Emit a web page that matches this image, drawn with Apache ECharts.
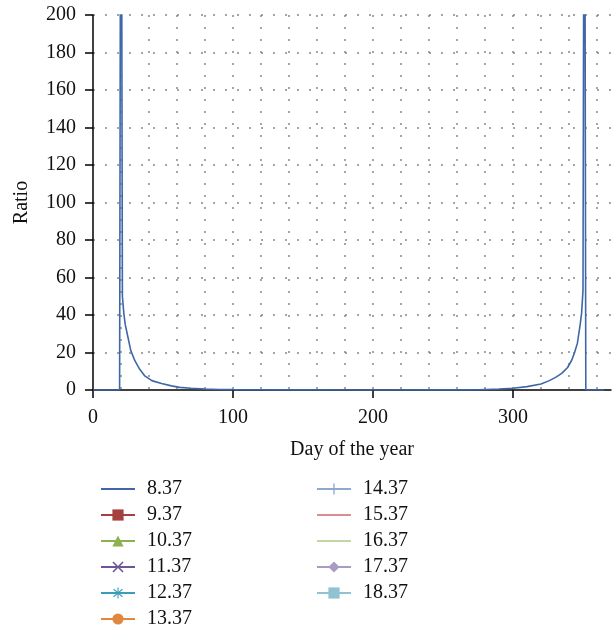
<!DOCTYPE html>
<html>
<head>
<meta charset="utf-8">
<script src="https://cdn.jsdelivr.net/npm/echarts@6/dist/echarts.min.js"></script>
<style>
  html, body { margin: 0; padding: 0; background: #fff; }
  #chart { width: 615px; height: 630px; }
</style>
</head>
<body>
<div id="chart"></div>
<script>
// Series names (legend entries)
const seriesNames = ['8.37', '9.37', '10.37', '11.37', '12.37', '13.37',
                     '14.37', '15.37', '16.37', '17.37', '18.37'];

// Curve for 8.37: day of the year and ratio
const days  = [0, 19, 20, 21, 22, 23, 25, 27, 30, 33, 37, 42, 49, 56, 62, 70, 80, 90, 100,
               120, 150, 180, 210, 240, 260, 276, 290, 300, 310, 320, 326, 331, 335, 339,
               342, 344, 346, 347, 348, 349, 350, 351, 352, 365];
const ratio = [0, 0, 400, 50, 41, 35, 28, 21, 15.5, 11.5, 7.5, 5, 3.5, 2.2, 1.4, 0.9, 0.5, 0.3, 0.2,
               0.1, 0.05, 0.03, 0.03, 0.05, 0.07, 0.1, 0.5, 0.9, 1.8, 3.2, 5, 7, 9, 12,
               16, 20, 25, 30, 35, 41, 53, 400, 0, 0];

// Axis ticks
const xTicks = [0, 100, 200, 300];
const yTicks = [0, 20, 40, 60, 80, 100, 120, 140, 160, 180, 200];

const colors = ['#3F67A8', '#A4403D', '#8DB050', '#6E549A', '#3B9DB8', '#E0883E',
                '#8FA8CF', '#DD8E8C', '#C4D6A5', '#A89CC4', '#90C2D2'];

const xMark = 'path://M1,0 L5,4 L9,0 L10,1 L6,5 L10,9 L9,10 L5,6 L1,10 L0,9 L4,5 L0,1 Z';
const plusMark = 'path://M4.4,0 H5.6 V4.4 H10 V5.6 H5.6 V10 H4.4 V5.6 H0 V4.4 H4.4 Z';
const starMark = 'path://M4.5,0 H5.5 V3.8 L8.6,1.2 L9.3,2 L6.2,4.6 H10 V5.4 H6.2 L9.3,8 L8.6,8.8 L5.5,6.2 V10 H4.5 V6.2 L1.4,8.8 L0.7,8 L3.8,5.4 H0 V4.6 H3.8 L0.7,2 L1.4,1.2 L4.5,3.8 Z';
const symbols = ['none', 'rect', 'triangle', xMark, starMark, 'circle',
                 plusMark, 'none', 'none', 'diamond', 'rect'];

const FONT = 'Liberation Serif, Times New Roman, serif';
const FS = 20;

const curve = days.map((d, i) => [d, ratio[i]]);

const series = seriesNames.map((name, i) => ({
  name: name,
  type: 'line',
  data: i === 0 ? curve : [],
  symbol: symbols[i],
  showSymbol: false,
  clip: true,
  color: colors[i],
  lineStyle: { width: 1.6, color: colors[i] },
  itemStyle: { color: colors[i] },
  z: 10 - i
}));

// Legend entries; plain-line series get no marker in the key
const legendItem = (name, i) => symbols[i] === 'none'
  ? { name: name, itemStyle: { opacity: 0 } }
  : { name: name };

const legendBase = {
  orient: 'vertical',
  padding: 0,
  itemWidth: 34,
  itemHeight: 14,
  itemGap: 6,
  selectedMode: false,
  textStyle: { fontFamily: FONT, fontSize: FS, color: '#111', lineHeight: 20, padding: [0, 0, 0, 7] }
};

const gridDots = { type: [2, 10], color: '#888', width: 1.5 };

const chart = echarts.init(document.getElementById('chart'), null, { renderer: 'canvas' });
chart.setOption({
  animation: false,
  backgroundColor: '#fff',
  grid: { left: 93, top: 15, right: 4, bottom: 240, containLabel: false },
  legend: [
    Object.assign({}, legendBase, { left: 100, top: 479,
      data: seriesNames.slice(0, 6).map((n, i) => legendItem(n, i)) }),
    Object.assign({}, legendBase, { left: 316, top: 479,
      data: seriesNames.slice(6).map((n, i) => legendItem(n, i + 6)) })
  ],
  xAxis: [
    {
      // main axis: line, labels, name and the dotted grid every 20 days
      type: 'value',
      position: 'bottom',
      min: 0,
      max: 370,
      interval: 20,
      name: 'Day of the year',
      nameLocation: 'middle',
      nameGap: 50,
      nameTextStyle: { fontFamily: FONT, fontSize: FS, color: '#111' },
      axisLine: { show: true, onZero: false, lineStyle: { color: '#000', width: 1.5 } },
      axisTick: { show: false },
      axisLabel: { customValues: xTicks, margin: 18, fontFamily: FONT, fontSize: FS, color: '#111' },
      splitLine: { show: true, showMinLine: false, showMaxLine: false, lineStyle: gridDots }
    },
    {
      // tick marks at the labelled days only
      type: 'value',
      position: 'bottom',
      min: 0,
      max: 370,
      interval: 100,
      axisLine: { show: false, onZero: false },
      axisTick: { show: true, customValues: xTicks, length: 8, lineStyle: { color: '#000', width: 1.5 } },
      axisLabel: { show: false },
      splitLine: { show: false }
    }
  ],
  yAxis: {
    type: 'value',
    min: 0,
    max: 200,
    interval: 20,
    name: 'Ratio',
    nameLocation: 'middle',
    nameGap: 61,
    nameTextStyle: { fontFamily: FONT, fontSize: FS, color: '#111' },
    axisLine: { show: true, lineStyle: { color: '#000', width: 1.5 } },
    axisTick: { show: true, length: 8, lineStyle: { color: '#000', width: 1.5 } },
    axisLabel: { customValues: yTicks, margin: 17, fontFamily: FONT, fontSize: FS, color: '#111' },
    splitLine: { show: true, showMinLine: false, lineStyle: gridDots }
  },
  series: series
});
</script>
</body>
</html>
